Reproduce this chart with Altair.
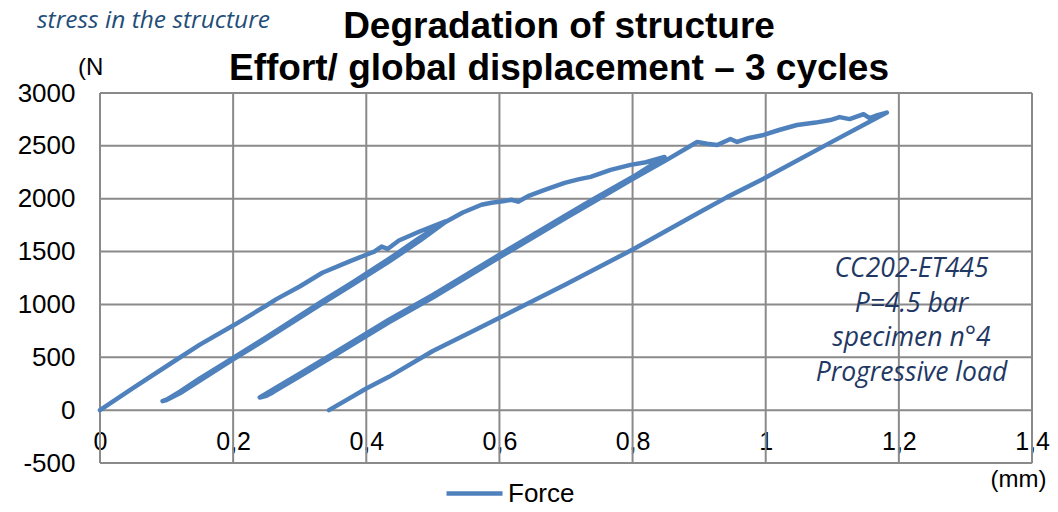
import altair as alt
import pandas as pd

# ---- data ----
load1_x = [0, 0.05, 0.109, 0.15, 0.2, 0.25, 0.265, 0.3, 0.334, 0.374, 0.4, 0.412, 0.423, 0.432, 0.449, 0.48, 0.519]
load1_y = [0, 210, 453, 620, 800, 990, 1050, 1170, 1300, 1405, 1470, 1500, 1547, 1525, 1605, 1690, 1785]

unload1_x = [0.519, 0.48, 0.434, 0.38, 0.334, 0.25, 0.2, 0.15, 0.12, 0.1, 0.094]
unload1_y = [1785, 1630, 1430, 1210, 1030, 690, 495, 300, 175, 100, 85]

reload1_x = [0.094, 0.1, 0.12, 0.15, 0.2, 0.25, 0.334, 0.38, 0.434, 0.48, 0.519]
reload1_y = [85, 95, 160, 280, 480, 675, 1010, 1190, 1405, 1600, 1780]

env2_x = [0.519, 0.545, 0.573, 0.588, 0.605, 0.618, 0.628, 0.645, 0.668, 0.698, 0.72, 0.737, 0.767, 0.797, 0.82, 0.848]
env2_y = [1780, 1870, 1943, 1962, 1975, 1990, 1972, 2030, 2084, 2150, 2185, 2207, 2273, 2320, 2345, 2395]

unload2_x = [0.852, 0.8, 0.737, 0.7, 0.6, 0.5, 0.434, 0.35, 0.3, 0.26, 0.245, 0.24]
unload2_y = [2395, 2205, 1980, 1845, 1470, 1090, 855, 535, 345, 195, 140, 120]

reload2_x = [0.24, 0.25, 0.26, 0.3, 0.35, 0.434, 0.5, 0.6, 0.7, 0.737, 0.8, 0.852, 0.897]
reload2_y = [120, 135, 170, 320, 510, 830, 1065, 1445, 1820, 1955, 2185, 2370, 2537]

env3_x = [0.897, 0.912, 0.927, 0.947, 0.957, 0.975, 0.997, 1.02, 1.047, 1.075, 1.097, 1.111, 1.126, 1.147, 1.156, 1.168, 1.182]
env3_y = [2537, 2520, 2508, 2565, 2537, 2575, 2603, 2650, 2697, 2720, 2744, 2772, 2753, 2800, 2763, 2790, 2815]

unload3_x = [1.182, 1.1, 1.0, 0.942, 0.9, 0.803, 0.7, 0.568, 0.5, 0.434, 0.4, 0.37, 0.355, 0.344]
unload3_y = [2815, 2540, 2200, 2015, 1870, 1529, 1190, 773, 560, 315, 205, 95, 40, 0]

x_ticks = [0, 0.2, 0.4, 0.6, 0.8, 1, 1.2, 1.4]
y_ticks = [-500, 0, 500, 1000, 1500, 2000, 2500, 3000]

series_name = "Force"
title_lines = ["Degradation of structure", "Effort/ global displacement \u2013 3 cycles"]
annot_lines = ["CC202-ET445", "P=4.5 bar", "specimen n\u00b04", "Progressive load"]
top_note = "stress in the structure"
y_unit = "(N"
x_unit = "(mm)"

# ---- build table ----
segs = [(load1_x, load1_y), (unload1_x, unload1_y), (reload1_x, reload1_y), (env2_x, env2_y),
        (unload2_x, unload2_y), (reload2_x, reload2_y), (env3_x, env3_y), (unload3_x, unload3_y)]
xs, ys = [], []
for i, (sx, sy) in enumerate(segs):
    start = 0 if i == 0 else 1
    xs += sx[start:]
    ys += sy[start:]
df = pd.DataFrame({"x": xs, "y": ys, "i": range(len(xs)), "series": series_name})

W, H = 932, 370
GRID = "#8a8a8a"
FONT = "Liberation Sans"

xscale = alt.Scale(domain=[0, 1.4], nice=False, zero=False)
yscale = alt.Scale(domain=[-500, 3000], nice=False, zero=False)

zero_off = -(H - H * 3000 / 3500)

xaxis = alt.Axis(values=x_ticks, labelExpr="replace(toString(datum.value), '.', ',')",
                 grid=False, domain=False, ticks=False, tickSize=0, labelFlush=False,
                 labelOverlap=False, labelBound=False,
                 labelFont=FONT, labelFontSize=25, labelColor="black",
                 labelBaseline="middle", labelPadding=31, offset=zero_off,
                 title=x_unit, titleFont=FONT, titleFontSize=24, titleFontWeight="normal",
                 titleColor="black", titleX=W - 14, titleY=76, titleAlign="center",
                 titleBaseline="alphabetic")
yaxis = alt.Axis(values=y_ticks, labelExpr="toString(datum.value)",
                 grid=False, domain=False, ticks=False, tickSize=0,
                 labelFont=FONT, labelFontSize=26, labelColor="black",
                 labelBaseline="middle", labelPadding=25, labelOverlap=False, labelBound=False,
                 title=None)

X = alt.X("x:Q", scale=xscale, axis=xaxis)
Y = alt.Y("y:Q", scale=yscale, axis=yaxis)

vgrid = alt.Chart(pd.DataFrame({"x": x_ticks})).mark_rule(color=GRID, strokeWidth=2).encode(x=X)
hgrid = alt.Chart(pd.DataFrame({"y": y_ticks})).mark_rule(color=GRID, strokeWidth=2).encode(y=Y)

line = alt.Chart(df).mark_line(strokeWidth=4.5, strokeCap="round", strokeJoin="round").encode(
    x=X, y=Y, order="i:Q",
    color=alt.Color("series:N", scale=alt.Scale(range=["#4F81BD"]),
                    legend=alt.Legend(orient="none", legendX=344, legendY=370, title=None,
                                      symbolType="stroke", symbolSize=3136, symbolStrokeWidth=4.5,
                                      labelFont=FONT, labelFontSize=26, labelColor="black",
                                      labelOffset=3, padding=0))
)

annot = alt.Chart(pd.DataFrame({"t": ["\n".join(annot_lines)]})).mark_text(
    lineBreak="\n", lineHeight=34.7, font="Open Sans", fontStyle="italic", fontSize=26.5,
    color="#1F3864", align="center", baseline="alphabetic"
).encode(text="t:N", x=alt.value(811.5), y=alt.value(184))

yunit = alt.Chart(pd.DataFrame({"t": [y_unit]})).mark_text(
    font=FONT, fontSize=24, color="black", align="left", baseline="alphabetic"
).encode(text="t:N", x=alt.value(-22), y=alt.value(-18))

note = alt.Chart(pd.DataFrame({"t": [top_note]})).mark_text(
    font="Open Sans", fontStyle="italic", fontSize=24.5, color="#1F4E79", align="left",
    baseline="alphabetic"
).encode(text="t:N", x=alt.value(-63), y=alt.value(-65))

title = alt.Chart(pd.DataFrame({"t": ["\n".join(title_lines)]})).mark_text(
    lineBreak="\n", lineHeight=42, font=FONT, fontSize=37, fontWeight="bold",
    color="black", align="center", baseline="alphabetic"
).encode(text="t:N", x=alt.value(459), y=alt.value(-55))

chart = alt.layer(vgrid, hgrid, line, annot, yunit, note, title).properties(
    width=W, height=H,
    autosize=alt.AutoSizeParams(type="none"),
    padding={"left": 92, "top": 85, "right": 18, "bottom": 41},
).configure_view(stroke=None).configure(background="white")

chart.save("out.html", embed_options={"renderer": "svg", "actions": False})
